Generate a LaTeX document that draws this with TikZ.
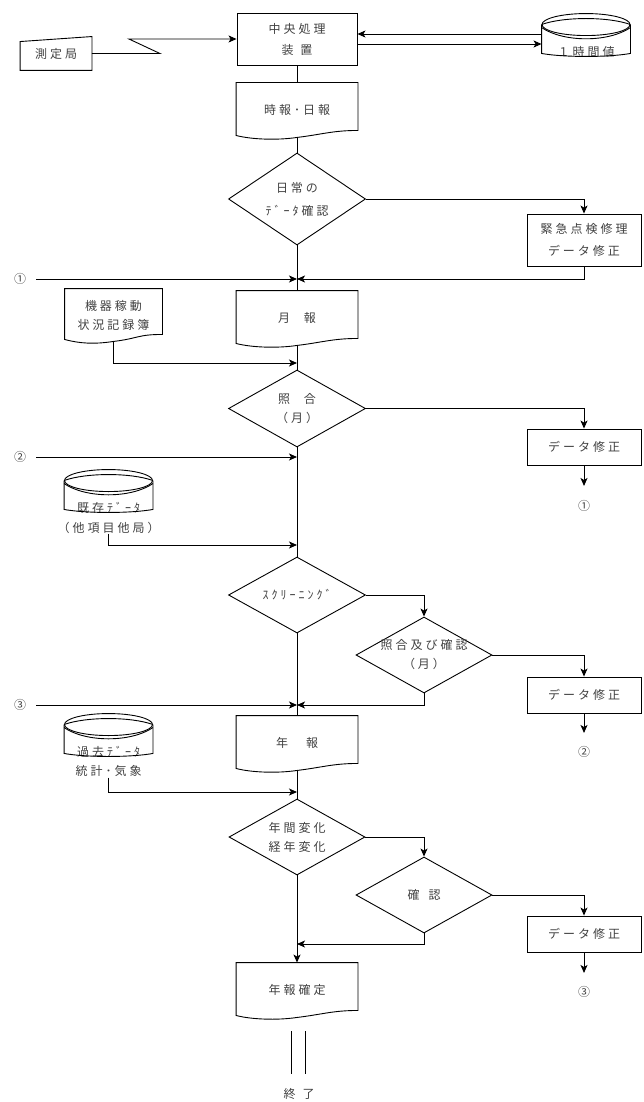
\documentclass[tikz,border=0pt]{standalone}
\usepackage{fontspec}
\newfontfamily\jp{Noto Sans CJK JP}[LetterSpace=25]
\usetikzlibrary{arrows.meta,shapes.geometric}

\begin{document}
\begin{tikzpicture}[x=1pt, y=-1pt, >={Stealth[length=8pt,width=7pt,inset=2pt]},
  line width=0.9pt,
  every node/.style={font=\jp\fontsize{12}{19}\selectfont, text=black!75, inner sep=0pt, align=center},
  proc/.style={draw, rectangle, minimum width=120pt, minimum height=52pt},
  fix/.style={draw, rectangle, minimum width=114pt, minimum height=36pt},
  doc/.style={minimum width=121pt, minimum height=54pt},
  disk/.style={minimum width=88pt, minimum height=42pt},
  check/.style={draw, diamond, aspect=1.8, inner sep=-6pt, minimum width=137pt, minimum height=76pt},
  num/.style={font=\jp\fontsize{12}{14}\selectfont}]
		\useasboundingbox (0,0) rectangle (644,1102);

		\node[proc] (cpu) at (297,39) {中央処理\\[2pt]装\hspace{7pt}置};
		\node[minimum width=71pt, minimum height=33pt] (sokutei) at (56,53.5) {測定局};
		\draw (sokutei.south west) -- ([yshift=-5pt]sokutei.north west) -- (sokutei.north east) -- (sokutei.south east) -- cycle;
		\draw[->] (sokutei.east) -- ++(68,0) -- ++(-31,-14.5) -- (cpu.west);

		\node[disk] (jikan) at (586,35) {};
		\node (jikantx) at ([yshift=5pt]jikan.south) {１時間値};
		\coordinate (cpuin) at ([yshift=5pt]cpu.east);
		\coordinate (cpuout) at ([yshift=-5pt]cpu.east);
		\draw[->] (cpuin -| jikan.west) -- (cpuin);
		\draw[->] (cpuout) -- (cpuout -| jikan.west);

		\node[doc] (jiho) at (297,110) {時報･日報};
		\draw (cpu.south) -- (jiho.north);
		\node[check, minimum height=92pt] (kakunin1) at (297,199) {日常の\\[4pt]ﾃﾞｰﾀ確認};
		\draw (jiho.south) -- (kakunin1.north);
		\node[proc, minimum width=114pt] (kinkyu) at (584,240) {緊急点検修理\\[3pt]データ修正};
		\draw[->] (kakunin1.east) -| (kinkyu.north);

		\coordinate (j1) at (297,279);
		\node[num] (maru1) at (20,279) {①};
		\draw[->] (kinkyu.south) |- (j1);
		\draw[->, shorten <=10pt] (maru1.east) -- (j1);
		\node[doc] (geppo) at (297,318) {月\hspace{14pt}報};
		\draw (kakunin1.south) -- (geppo.north);
		\node[doc, minimum width=97pt, minimum height=52pt] (kiki) at (113.5,315) {機器稼動\\状況記録簿};

		\node[check, minimum height=77pt] (shogo) at (297,408.5) {照\hspace{14pt}合\\（月）};
		\coordinate (j2) at (297,363);
		\draw (geppo.south) -- (shogo.north);
		\draw[->] (kiki.south) |- (j2);
		\node[fix] (shusei1) at (584,447) {データ修正};
		\draw[->] (shogo.east) -| (shusei1.north);
		\node[num] (maru1b) at (584,506) {①};
		\draw[->, shorten >=14pt] (shusei1.south) -- (maru1b.north);

		\coordinate (j3) at (297,457);
		\node[num] (maru2) at (20,457) {②};
		\draw[->, shorten <=10pt] (maru2.east) -- (j3);
		\node[disk] (kizon) at (108.5,491) {};
		\node (kizontx) at ([yshift=5pt]kizon.south) {既存ﾃﾞｰﾀ};
		\node (kizonsub) at ([yshift=-15pt]kizon.south) {（他項目他局）};
		\coordinate (j4) at (297,545);
		\draw[->] (kizonsub.south) |- (j4);

		\node[check] (screen) at (297,595) {ｽｸﾘｰﾆﾝｸﾞ};
		\draw (shogo.south) -- (screen.north);
		\node[check, minimum width=136pt] (shogo2) at (424,655) {照合及び確認\\（月）};
		\draw[->] (screen.east) -| (shogo2.north);
		\node[fix] (shusei2) at (584,695) {データ修正};
		\draw[->] (shogo2.east) -| (shusei2.north);
		\node[num] (maru2b) at (584,752) {②};
		\draw[->, shorten >=13pt] (shusei2.south) -- (maru2b.north);

		\coordinate (j5) at (297,705);
		\node[num] (maru3) at (20,705) {③};
		\draw[->] (shogo2.south) |- (j5);
		\draw[->, shorten <=10pt] (maru3.east) -- (j5);
		\node[doc] (nenpo) at (297,743) {年\hspace{18pt}報};
		\draw (screen.south) -- (nenpo.north);
		\node[disk] (kako) at (108.5,735) {};
		\node (kakotx) at ([yshift=5pt]kako.south) {過去ﾃﾞｰﾀ};
		\node (kakosub) at ([yshift=-15pt]kako.south) {統計･気象};
		\coordinate (j6) at (297,792);
		\draw[->] (kakosub.south) |- (j6);

		\node[check, minimum width=136pt] (henka) at (297,837) {年間変化\\経年変化};
		\draw (nenpo.south) -- (henka.north);
		\node[check, minimum width=136pt] (kakunin2) at (424,895) {確\hspace{9pt}認};
		\draw[->] (henka.east) -| (kakunin2.north);
		\node[fix] (shusei3) at (584,934) {データ修正};
		\draw[->] (kakunin2.east) -| (shusei3.north);
		\node[num] (maru3b) at (584,992) {③};
		\draw[->, shorten >=13pt] (shusei3.south) -- (maru3b.north);

		\node[doc] (kakutei) at (297,990) {年報確定};
		\coordinate (j7) at (297,944);
		\draw[->] (kakunin2.south) |- (j7);
		\draw[->] (henka.south) -- (kakutei.north);
		\draw[line width=0.7pt] ([xshift=-6pt,yshift=-14pt]kakutei.south) -- ++(0,43);
		\draw[line width=0.7pt] ([xshift=8pt,yshift=-14pt]kakutei.south) -- ++(0,43);
		\node (owari) at (299,1094) {終\hspace{7pt}了};

		\foreach \n in {jiho,geppo,kiki,nenpo,kakutei}
		  \draw (\n.north west) -- (\n.north east) -- ([yshift=7pt]\n.south east)
		    .. controls ([xshift=-25pt,yshift=7pt]\n.south east) and ([xshift=25pt,yshift=3pt]\n.south) .. (\n.south)
		    .. controls ([xshift=-20pt,yshift=-3pt]\n.south) and ([xshift=15pt,yshift=-2pt]\n.south west) .. ([yshift=2pt]\n.south west) -- cycle;

		\foreach \n in {jikan,kizon,kako} {
		  \draw ([yshift=-11pt]\n.north) ellipse [x radius=44pt, y radius=11pt];
		  \draw ([yshift=-11pt]\n.north west) .. controls ([xshift=22pt,yshift=-3pt]\n.north west) and ([xshift=-22pt,yshift=-3pt]\n.north east) .. ([yshift=-11pt]\n.north east);
		  \draw ([yshift=-14pt]\n.north west) .. controls ([xshift=22pt,yshift=-29pt]\n.north west) and ([xshift=-22pt,yshift=-29pt]\n.north east) .. ([yshift=-14pt]\n.north east);
		  \draw ([yshift=-11pt]\n.north west) -- ([yshift=3pt]\n.south west) .. controls ([xshift=22pt,yshift=-1pt]\n.south west) and ([xshift=-22pt,yshift=-1pt]\n.south east) .. ([yshift=3pt]\n.south east) -- ([yshift=-11pt]\n.north east);
		}
\end{tikzpicture}
\end{document}
